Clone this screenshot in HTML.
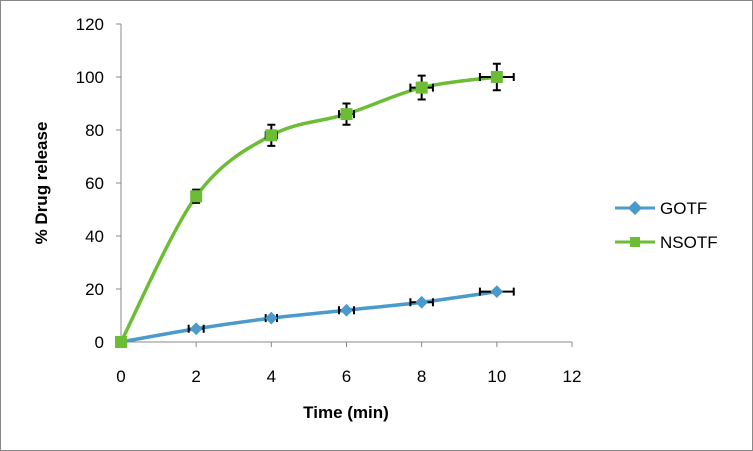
<!DOCTYPE html>
<html><head><meta charset="utf-8"><style>
body{margin:0;background:#fff;}
svg{display:block;font-family:"Liberation Sans",Arial,sans-serif;}
</style></head><body>
<svg id="chart" width="753" height="451">
<rect x="0.5" y="0.5" width="752" height="450" fill="#fff" stroke="#888"/>
<g id="axes"></g>
<g id="series"></g>
<text x="0" y="0" transform="translate(47,183) rotate(-90)" text-anchor="middle" font-size="17" font-weight="bold">% Drug release</text>
<text x="346" y="418" text-anchor="middle" font-size="17" font-weight="bold">Time  (min)</text>
<g>
<g>
<line x1="615" y1="208" x2="655" y2="208" stroke="#4a9acb" stroke-width="3"/>
<rect x="630" y="203" width="10" height="10" fill="#4a9acb" transform="rotate(45 635 208)"/>
<text x="660" y="214" font-size="17">GOTF</text></g>
<g>
<line x1="615" y1="242" x2="655" y2="242" stroke="#6cbd35" stroke-width="3"/>
<rect x="630" y="237" width="10" height="10" fill="#6cbd35"/>
<text x="660" y="248" font-size="17">NSOTF</text></g>
</g>
</svg>
<script>
const times=[0,2,4,6,8,10];
const gotf=[0,5,9,12,15,19];
const nsotf=[0,55,78,86,96,100];
const nsotfYErr=[0,2.5,4,4,4.5,5];
const gotfYErr=[0,0,0,0,0,0];
const nsotfXErr=[0,0.05,0.15,0.2,0.3,0.45];
const gotfXErr=[0,0.2,0.15,0.2,0.3,0.45];
const yTicks=[0,20,40,60,80,100,120];
const xTicks=[0,2,4,6,8,10,12];
const NS="http://www.w3.org/2000/svg";
const X=v=>121+v*(572-121)/12, Y=v=>342-v*(342-24)/120;
const axes=document.getElementById('axes'), ser=document.getElementById('series');
function mk(tag,a,p){const e=document.createElementNS(NS,tag);for(const k in a)e.setAttribute(k,a[k]);p.appendChild(e);return e;}
let ya=mk('line',{x1:X(0),y1:Y(0),x2:X(0),y2:Y(120),stroke:'#888'},axes);


let xa=mk('line',{x1:X(0),y1:Y(0),x2:X(12),y2:Y(0),stroke:'#888'},axes);


yTicks.forEach(t=>{mk('line',{x1:X(0)-5,y1:Y(t),x2:X(0),y2:Y(t),stroke:'#888'},axes);
const tx=mk('text',{x:104,y:Y(t)+6,'text-anchor':'end','font-size':17},axes);tx.textContent=t;

});
xTicks.forEach(t=>{mk('line',{x1:X(t),y1:Y(0),x2:X(t),y2:Y(0)+5,stroke:'#888'},axes);
const tx=mk('text',{x:X(t),y:382,'text-anchor':'middle','font-size':17},axes);tx.textContent=t;

});
function smooth(pts){let d=`M${pts[0][0]},${pts[0][1]}`;for(let i=0;i<pts.length-1;i++){const p0=pts[i-1]||pts[i],p1=pts[i],p2=pts[i+1],p3=pts[i+2]||p2;
const c1=[p1[0]+(p2[0]-p0[0])/6,p1[1]+(p2[1]-p0[1])/6],c2=[p2[0]-(p3[0]-p1[0])/6,p2[1]-(p3[1]-p1[1])/6];
d+=` C${c1[0]},${c1[1]} ${c2[0]},${c2[1]} ${p2[0]},${p2[1]}`;}return d;}
function draw(vals,xe,ye,color,shape,name){
const g=mk('g',{},ser);


const pts=times.map((t,i)=>[X(t),Y(vals[i])]);
const ln=mk('path',{d:smooth(pts),fill:'none',stroke:color,'stroke-width':3.5},g);


times.forEach((t,i)=>{const cx=X(t),cy=Y(vals[i]);
if(xe[i]>0){const x1=X(t-xe[i]),x2=X(t+xe[i]);
const e=mk('path',{d:`M${x1},${cy}H${x2}M${x1},${cy-4}V${cy+4}M${x2},${cy-4}V${cy+4}`,stroke:'#000','stroke-width':2,fill:'none'},g);

}
if(ye[i]>0){const y1=Y(vals[i]-ye[i]),y2=Y(vals[i]+ye[i]);
const e=mk('path',{d:`M${cx},${y1}V${y2}M${cx-4},${y1}H${cx+4}M${cx-4},${y2}H${cx+4}`,stroke:'#000','stroke-width':2,fill:'none'},g);

}
let m;if(shape==='sq')m=mk('rect',{x:cx-6,y:cy-6,width:12,height:12,fill:color},g);
else m=mk('rect',{x:cx-4.5,y:cy-4.5,width:9,height:9,fill:color,transform:`rotate(45 ${cx} ${cy})`},g);


});}
draw(gotf,gotfXErr,gotfYErr,'#4a9acb','di','gotf');
draw(nsotf,nsotfXErr,nsotfYErr,'#6cbd35','sq','nsotf');
</script>
</body></html>
